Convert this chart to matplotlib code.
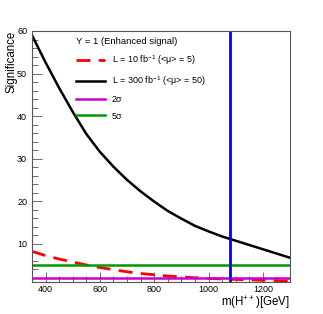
import matplotlib
matplotlib.use("Agg")
import matplotlib.pyplot as plt
from matplotlib.ticker import MultipleLocator

plt.rcParams['font.family'] = ['Liberation Sans', 'DejaVu Sans']
plt.rcParams['mathtext.fontset'] = 'custom'
plt.rcParams['mathtext.rm'] = 'Liberation Sans'
plt.rcParams['mathtext.it'] = 'Liberation Sans:italic'
plt.rcParams['mathtext.default'] = 'regular'

# Data
mass = [350, 400, 450, 500, 550, 600, 650, 700, 750, 800, 850, 900, 950,
        1000, 1050, 1100, 1150, 1200, 1250, 1300]
sig_300 = [59.0, 52.6, 46.6, 41.0, 35.8, 31.6, 28.1, 25.0, 22.3, 19.9, 17.7,
           15.9, 14.2, 12.9, 11.7, 10.7, 9.7, 8.7, 7.7, 6.7]
sig_10 = [8.2, 7.2, 6.4, 5.7, 5.0, 4.4, 3.9, 3.4, 3.0, 2.7, 2.4, 2.2, 2.0,
          1.85, 1.7, 1.6, 1.5, 1.4, 1.3, 1.2]
two_sigma = 2.0
five_sigma = 5.0
mass_cut = 1080
xlim = (350, 1300)
ylim = (1, 60)

fig = plt.figure(figsize=(3.23, 3.14), dpi=100)
ax = fig.add_axes([32/323, 1-282/314, (290-32)/323, (282-31)/314])

ax.plot(mass, sig_10, color='red', lw=2, dashes=(5, 3), label='L = 10 fb$^{-1}$ (<μ> = 5)')
ax.plot(mass, sig_300, color='black', lw=1.8, label='L = 300 fb$^{-1}$ (<μ> = 50)')
ax.axhline(two_sigma, color='#cc00cc', lw=1.8, label='2σ')
ax.axhline(five_sigma, color='#009900', lw=1.8, label='5σ')
ax.axvline(mass_cut, color='blue', lw=2)

ax.set_xlim(*xlim)
ax.set_ylim(*ylim)
ax.xaxis.set_major_locator(MultipleLocator(200))
ax.xaxis.set_minor_locator(MultipleLocator(50))
ax.yaxis.set_major_locator(MultipleLocator(10))
ax.yaxis.set_minor_locator(MultipleLocator(2))
ax.tick_params(which='both', direction='in', top=False, right=False, labelsize=6.5,
               width=0.6, colors='#555555', labelcolor='black')
ax.tick_params(which='major', length=7)
ax.tick_params(which='minor', length=4)
ax.tick_params(axis='x', pad=2.5)
ax.set_yticks([10, 20, 30, 40, 50, 60])
for s in ax.spines.values():
    s.set_linewidth(0.8)
    s.set_color('#555555')

leg = ax.legend(loc='upper left', bbox_to_anchor=(0.145, 1.0), frameon=False, fontsize=6.5,
                title='Y = 1 (Enhanced signal)', title_fontsize=6.8, handlelength=3.2,
                labelspacing=0.8, handletextpad=0.8, borderaxespad=0.3)
leg._legend_box.align = 'left'

fig.text(12/323, 1-31/314, 'Significance', rotation=90, ha='center', va='top', fontsize=8.3)
fig.text(290/323, 1-306/314, 'm(H$^{++}$)[GeV]', ha='right', va='baseline', fontsize=8.3)

fig.savefig('out.png', dpi=100)
